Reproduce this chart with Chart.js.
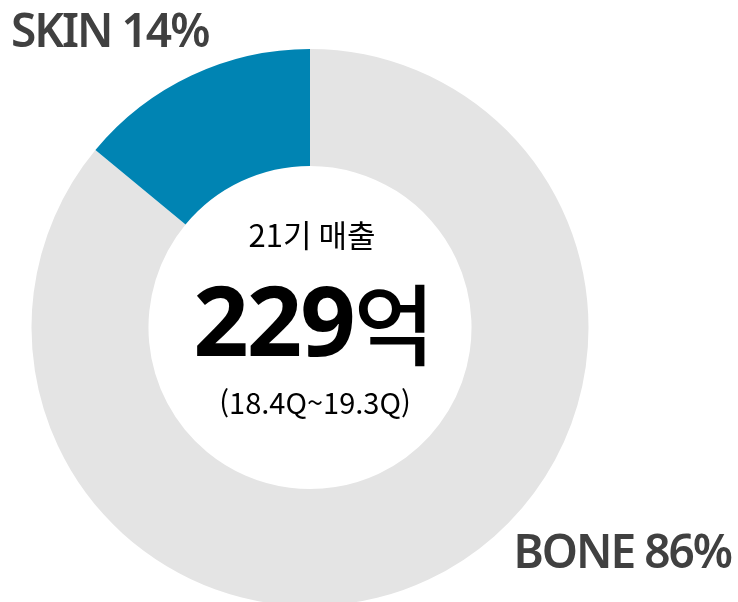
<!DOCTYPE html>
<html lang="ko">
    <head>
        <meta charset="utf-8">
        <script src="https://cdn.jsdelivr.net/npm/chart.js"></script>
        <style>
            body { margin: 0; overflow: hidden; background: #fff; }
            #wrap { width: 738px; height: 602px; overflow: hidden; }
        </style>
    </head>
    <body>
        <div id="wrap"><canvas id="myChart" width="738" height="610"></canvas></div>
        <script>
            const labels = ["BONE", "SKIN"]
            const shares = [86, 14]
            const colors = ["#e4e4e4", "#0084b3"]
            const centerLines = ["21기 매출", "229", "억", "(18.4Q~19.3Q)"]

            // texts around and inside the ring
            const textPlugin = {
                id: "texts",
                afterDraw(chart) {
                    const ctx = chart.ctx
                    const arc = chart.getDatasetMeta(0).data[0]
                    const cx = arc.x
                    const cy = arc.y
                    ctx.save()
                    ctx.fillStyle = "#404040"
                    ctx.letterSpacing = "-2px"
                    ctx.font = "600 46px 'Noto Sans', 'Open Sans', sans-serif"
                    ctx.textBaseline = "alphabetic"
                    ctx.textAlign = "left"
                    ctx.fillText(labels[1] + " " + shares[1] + "%", 11, 47)
                    ctx.textAlign = "right"
                    ctx.fillText(labels[0] + " " + shares[0] + "%", 731, 568)

                    ctx.letterSpacing = "0px"
                    ctx.fillStyle = "#000"
                    ctx.textAlign = "center"
                    ctx.font = "400 31px 'Noto Sans CJK KR', sans-serif"
                    ctx.fillText(centerLines[0], cx + 2, cy - 81)
                    ctx.font = "400 29px 'Noto Sans CJK KR', sans-serif"
                    ctx.fillText(centerLines[3], cx + 5, cy + 86)

                    ctx.textAlign = "left"
                    ctx.font = "700 97px 'Open Sans', sans-serif"
                    ctx.letterSpacing = "-2px"
                    const numW = ctx.measureText(centerLines[1]).width
                    ctx.font = "500 88px 'Noto Sans CJK KR', sans-serif"
                    ctx.letterSpacing = "0px"
                    const unitW = ctx.measureText(centerLines[2]).width
                    const x0 = cx + 4 - (numW + unitW) / 2
                    ctx.font = "700 97px 'Open Sans', sans-serif"
                    ctx.letterSpacing = "-2px"
                    ctx.fillText(centerLines[1], x0, cy + 28)
                    ctx.font = "500 88px 'Noto Sans CJK KR', sans-serif"
                    ctx.letterSpacing = "0px"
                    ctx.fillText(centerLines[2], x0 + numW, cy + 30)
                    ctx.restore()
                },
            }

            new Chart(document.getElementById("myChart"), {
                type: "doughnut",
                data: {
                    labels: labels,
                    datasets: [
                        {
                            data: shares,
                            backgroundColor: colors,
                            borderWidth: 0,
                        },
                    ],
                },
                options: {
                    responsive: false,
                    animation: false,
                    cutout: "58%",
                    layout: {
                        padding: { left: 31.5, right: 149.5, top: 49, bottom: 4 },
                    },
                    plugins: {
                        legend: { display: false },
                        tooltip: { enabled: false },
                    },
                },
                plugins: [textPlugin],
            })
        </script>
    </body>
</html>
